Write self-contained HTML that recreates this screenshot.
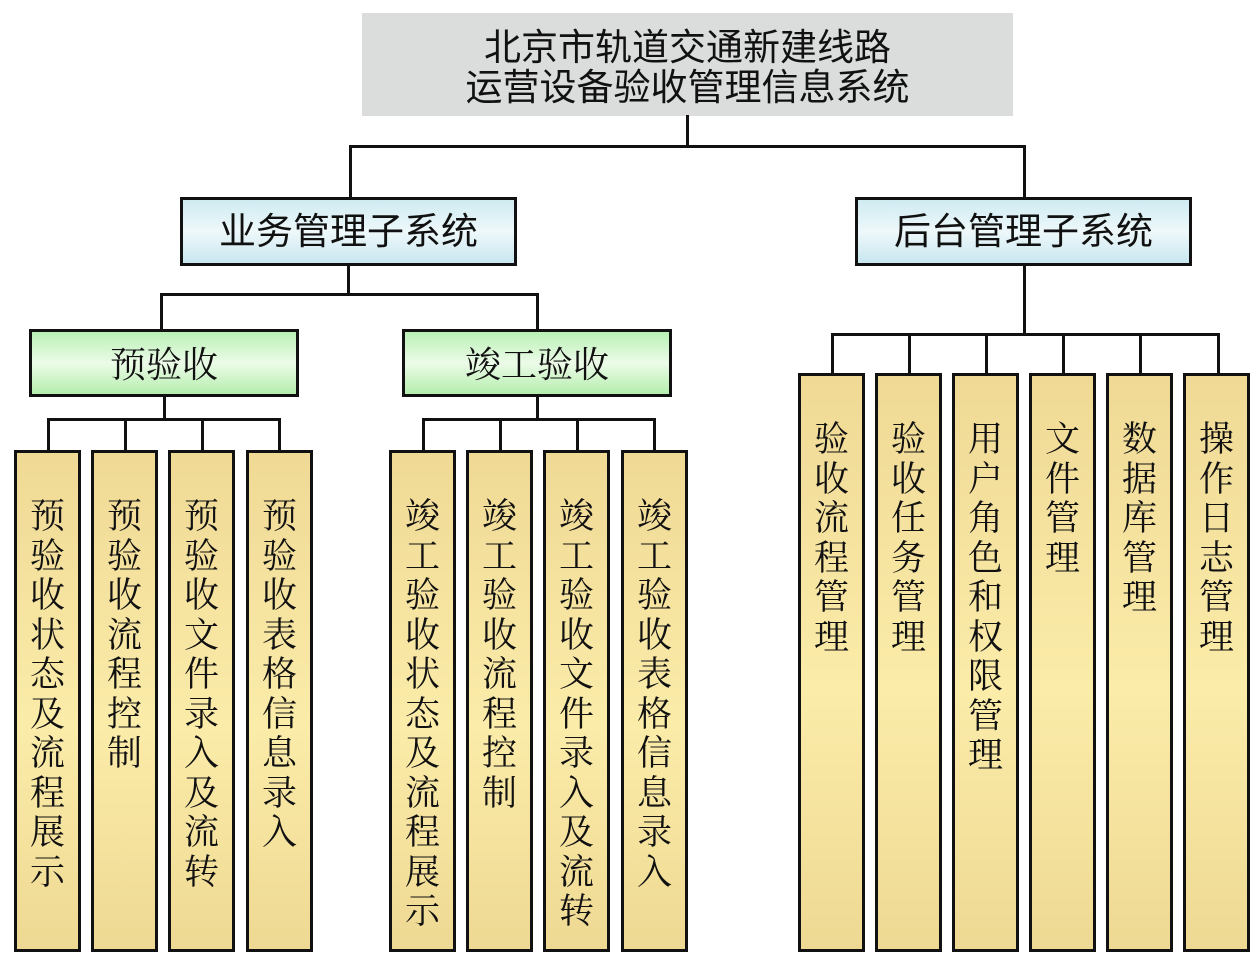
<!DOCTYPE html>
<html><head><meta charset="utf-8"><style>
body{margin:0;background:#fff;}
#c{position:relative;width:1260px;height:959px;overflow:hidden;background:#fff;font-family:"Liberation Serif","Noto Serif CJK SC",serif;color:#111;}
.b{position:absolute;box-sizing:border-box;}
.top{left:362px;top:13px;width:651px;height:103px;background:#dadddc;text-align:center;font-family:"Liberation Sans","Noto Sans CJK SC",sans-serif;font-size:37px;line-height:40px;padding-top:15px;}
.blue{border:3px solid #111;background:linear-gradient(#cfebf2,#eef8fa 50%,#c8e7f0);text-align:center;font-size:37px;line-height:63px;font-family:"Liberation Sans","Noto Sans CJK SC",sans-serif;}
.green{border:3px solid #111;background:linear-gradient(#b9f0b4,#ecfbe8 50%,#b4eead);text-align:center;font-size:36px;line-height:66px;}
.leaf{border:3px solid #111;background:linear-gradient(#efd995,#fbeca9 55%,#eed993);font-size:35px;line-height:39.5px;text-align:center;}
.leaf span{position:absolute;left:0;right:0;}
.h{position:absolute;background:#111;height:3px;}
.v{position:absolute;background:#111;width:3px;}
</style></head><body><div id="c">
<div class="b top">北京市轨道交通新建线路<br>运营设备验收管理信息系统</div>
<div class="v" style="left:686px;top:115px;height:33px"></div>
<div class="h" style="left:349px;top:145px;width:677px"></div>
<div class="v" style="left:349px;top:145px;height:55px"></div>
<div class="v" style="left:1023px;top:145px;height:55px"></div>
<div class="b blue" style="left:180px;top:197px;width:337px;height:69px">业务管理子系统</div>
<div class="b blue" style="left:855px;top:197px;width:337px;height:69px">后台管理子系统</div>
<div class="v" style="left:347px;top:265px;height:30px"></div>
<div class="h" style="left:160px;top:293px;width:379px"></div>
<div class="v" style="left:160px;top:293px;height:38px"></div>
<div class="v" style="left:536px;top:293px;height:38px"></div>
<div class="b green" style="left:29px;top:329px;width:270px;height:68px">预验收</div>
<div class="b green" style="left:402px;top:329px;width:270px;height:68px">竣工验收</div>
<div class="v" style="left:163px;top:396px;height:24px"></div>
<div class="h" style="left:47px;top:418px;width:234px"></div>
<div class="v" style="left:47px;top:418px;height:34px"></div>
<div class="v" style="left:124px;top:418px;height:34px"></div>
<div class="v" style="left:201px;top:418px;height:34px"></div>
<div class="v" style="left:278px;top:418px;height:34px"></div>
<div class="v" style="left:536px;top:396px;height:24px"></div>
<div class="h" style="left:422px;top:418px;width:234px"></div>
<div class="v" style="left:422px;top:418px;height:34px"></div>
<div class="v" style="left:499px;top:418px;height:34px"></div>
<div class="v" style="left:576px;top:418px;height:34px"></div>
<div class="v" style="left:653px;top:418px;height:34px"></div>
<div class="v" style="left:1023px;top:265px;height:70px"></div>
<div class="h" style="left:831px;top:333px;width:389px"></div>
<div class="v" style="left:831px;top:333px;height:42px"></div>
<div class="v" style="left:908px;top:333px;height:42px"></div>
<div class="v" style="left:985px;top:333px;height:42px"></div>
<div class="v" style="left:1062px;top:333px;height:42px"></div>
<div class="v" style="left:1139px;top:333px;height:42px"></div>
<div class="v" style="left:1217px;top:333px;height:42px"></div>

<div class="b leaf" style="left:14px;top:450px;width:67px;height:502px"><span style="top:44px">预<br>验<br>收<br>状<br>态<br>及<br>流<br>程<br>展<br>示</span></div>
<div class="b leaf" style="left:91px;top:450px;width:67px;height:502px"><span style="top:44px">预<br>验<br>收<br>流<br>程<br>控<br>制</span></div>
<div class="b leaf" style="left:168px;top:450px;width:67px;height:502px"><span style="top:44px">预<br>验<br>收<br>文<br>件<br>录<br>入<br>及<br>流<br>转</span></div>
<div class="b leaf" style="left:246px;top:450px;width:67px;height:502px"><span style="top:44px">预<br>验<br>收<br>表<br>格<br>信<br>息<br>录<br>入</span></div>

<div class="b leaf" style="left:389px;top:450px;width:67px;height:502px"><span style="top:44px">竣<br>工<br>验<br>收<br>状<br>态<br>及<br>流<br>程<br>展<br>示</span></div>
<div class="b leaf" style="left:466px;top:450px;width:67px;height:502px"><span style="top:44px">竣<br>工<br>验<br>收<br>流<br>程<br>控<br>制</span></div>
<div class="b leaf" style="left:543px;top:450px;width:67px;height:502px"><span style="top:44px">竣<br>工<br>验<br>收<br>文<br>件<br>录<br>入<br>及<br>流<br>转</span></div>
<div class="b leaf" style="left:621px;top:450px;width:67px;height:502px"><span style="top:44px">竣<br>工<br>验<br>收<br>表<br>格<br>信<br>息<br>录<br>入</span></div>

<div class="b leaf" style="left:798px;top:373px;width:67px;height:579px"><span style="top:44px">验<br>收<br>流<br>程<br>管<br>理</span></div>
<div class="b leaf" style="left:875px;top:373px;width:67px;height:579px"><span style="top:44px">验<br>收<br>任<br>务<br>管<br>理</span></div>
<div class="b leaf" style="left:952px;top:373px;width:67px;height:579px"><span style="top:44px">用<br>户<br>角<br>色<br>和<br>权<br>限<br>管<br>理</span></div>
<div class="b leaf" style="left:1029px;top:373px;width:67px;height:579px"><span style="top:44px">文<br>件<br>管<br>理</span></div>
<div class="b leaf" style="left:1106px;top:373px;width:67px;height:579px"><span style="top:44px">数<br>据<br>库<br>管<br>理</span></div>
<div class="b leaf" style="left:1183px;top:373px;width:67px;height:579px"><span style="top:44px">操<br>作<br>日<br>志<br>管<br>理</span></div>
</div></body></html>
